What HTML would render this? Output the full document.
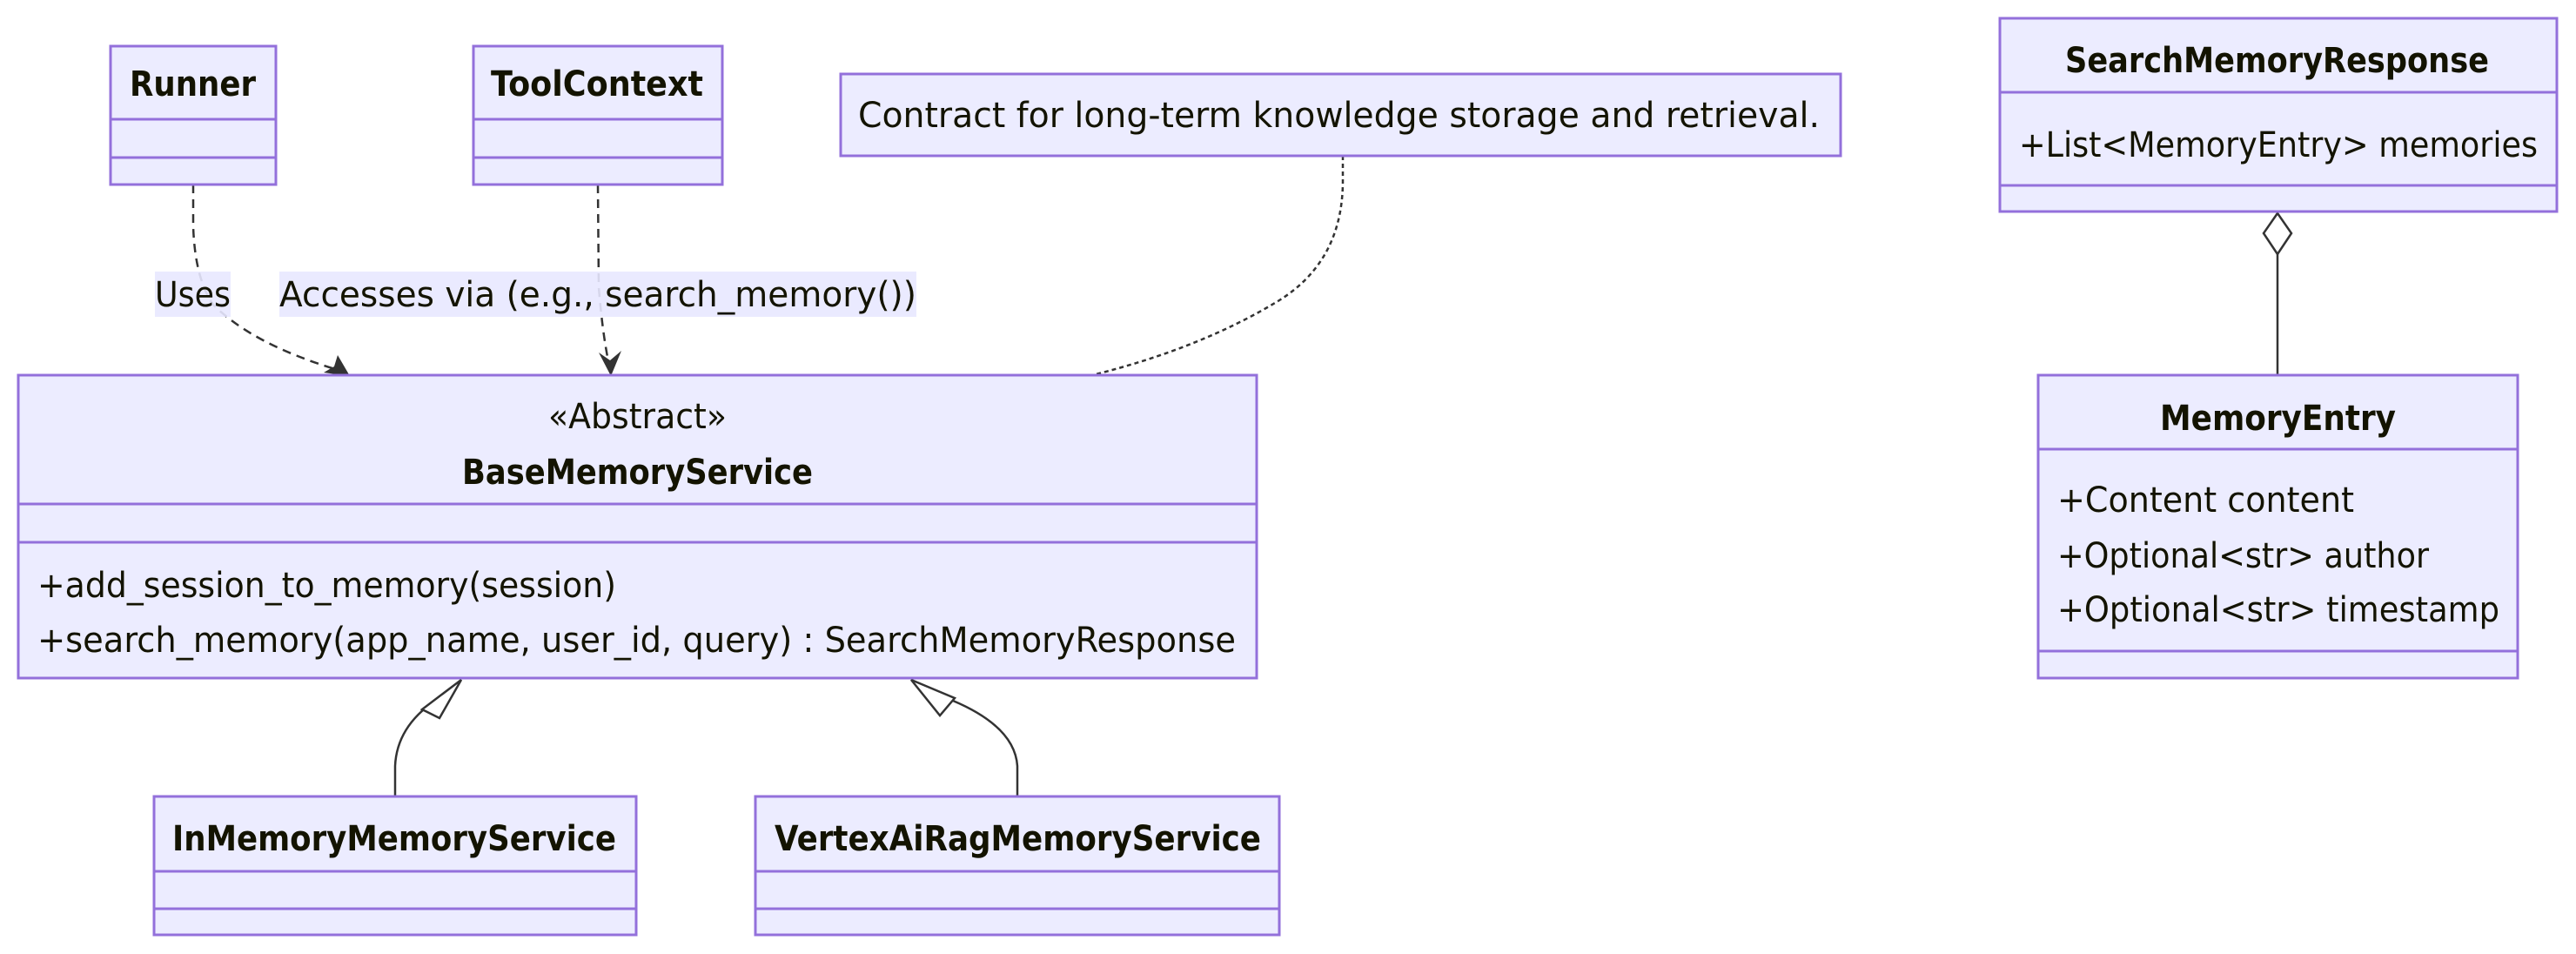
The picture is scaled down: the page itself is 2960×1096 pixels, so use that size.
<!DOCTYPE html>
<html><head><meta charset="utf-8"><style>
html,body{margin:0;padding:0;background:#fff;}
svg{display:block;}
text{font-family:"DejaVu Sans","Liberation Sans",sans-serif;fill:#131300;}
.b{fill:#ECECFF;stroke:#9370DB;stroke-width:3;}
.d{stroke:#9370DB;stroke-width:3;}
.t{font-size:40px;}
.h{font-size:40px;font-weight:bold;}
</style></head><body>
<svg width="2960" height="1096" viewBox="0 0 2960 1096" xmlns="http://www.w3.org/2000/svg">
<g fill="none" stroke="#333" stroke-width="2.5">
<path d="M222 212 L222 260 Q224 320 245 350 Q290 395 385 424" stroke-dasharray="10,7"/>
<path d="M687 212 L688 330 Q692 380 699 415" stroke-dasharray="10,7"/>
<path d="M1543 179 L1543 210 Q1542 300 1470 345 Q1380 400 1255 431" stroke-dasharray="5,4"/>
<path d="M454 915 L454 880 Q456 835 500 805"/>
<path d="M1169 915 L1169 880 Q1166 835 1095 805"/>
<path d="M2617 292 L2617 431"/>
</g>
<path d="M402 432 L372 428 L384 421 L388 408 Z" fill="#333"/>
<path d="M702 432 L688 405 L701 414 L714 403 Z" fill="#333"/>
<path d="M530 781 L485 815 L505 825 Z" fill="#fff" stroke="#333" stroke-width="2.5"/>
<path d="M1047 781 L1080 822 L1097 802 Z" fill="#fff" stroke="#333" stroke-width="2.5"/>
<path d="M2617 245 L2633 268 L2617 292 L2601 268 Z" fill="#fff" stroke="#333" stroke-width="2.5"/>

<rect x="178" y="312" width="87" height="52" fill="#E8E8FF" opacity="0.9"/>
<text class="t" x="178" y="352" textLength="87" lengthAdjust="spacingAndGlyphs">Uses</text>
<rect x="321" y="312" width="732" height="52" fill="#E8E8FF" opacity="0.9"/>
<text class="t" x="321" y="352" textLength="732" lengthAdjust="spacingAndGlyphs">Accesses via (e.g., search_memory())</text>

<rect class="b" x="127" y="53" width="190" height="159"/>
<line class="d" x1="127" y1="137" x2="317" y2="137"/><line class="d" x1="127" y1="181" x2="317" y2="181"/>
<text class="h" x="149" y="110" textLength="145" lengthAdjust="spacingAndGlyphs">Runner</text>
<rect class="b" x="544" y="53" width="286" height="159"/>
<line class="d" x1="544" y1="137" x2="830" y2="137"/><line class="d" x1="544" y1="181" x2="830" y2="181"/>
<text class="h" x="564" y="110" textLength="244" lengthAdjust="spacingAndGlyphs">ToolContext</text>
<rect class="b" x="966" y="85" width="1149" height="94"/>
<text class="t" x="986" y="146" textLength="1105" lengthAdjust="spacingAndGlyphs">Contract for long-term knowledge storage and retrieval.</text>

<rect class="b" x="21" y="431" width="1423" height="348"/>
<line class="d" x1="21" y1="579" x2="1444" y2="579"/><line class="d" x1="21" y1="623" x2="1444" y2="623"/>
<text class="t" x="630" y="492" textLength="205" lengthAdjust="spacingAndGlyphs">«Abstract»</text>
<text class="h" x="531" y="556" textLength="403" lengthAdjust="spacingAndGlyphs">BaseMemoryService</text>
<text class="t" x="43" y="686" textLength="665" lengthAdjust="spacingAndGlyphs">+add_session_to_memory(session)</text>
<text class="t" x="43" y="749" textLength="1377" lengthAdjust="spacingAndGlyphs">+search_memory(app_name, user_id, query) : SearchMemoryResponse</text>

<rect class="b" x="177" y="915" width="554" height="159"/>
<line class="d" x1="177" y1="1001" x2="731" y2="1001"/><line class="d" x1="177" y1="1044" x2="731" y2="1044"/>
<text class="h" x="198" y="977" textLength="510" lengthAdjust="spacingAndGlyphs">InMemoryMemoryService</text>
<rect class="b" x="868" y="915" width="602" height="159"/>
<line class="d" x1="868" y1="1001" x2="1470" y2="1001"/><line class="d" x1="868" y1="1044" x2="1470" y2="1044"/>
<text class="h" x="890" y="977" textLength="559" lengthAdjust="spacingAndGlyphs">VertexAiRagMemoryService</text>

<rect class="b" x="2298" y="21" width="640" height="222"/>
<line class="d" x1="2298" y1="106" x2="2938" y2="106"/><line class="d" x1="2298" y1="213" x2="2938" y2="213"/>
<text class="h" x="2373" y="83" textLength="487" lengthAdjust="spacingAndGlyphs">SearchMemoryResponse</text>
<text class="t" x="2320" y="180" textLength="596" lengthAdjust="spacingAndGlyphs">+List&lt;MemoryEntry&gt; memories</text>

<rect class="b" x="2342" y="431" width="551" height="348"/>
<line class="d" x1="2342" y1="516" x2="2893" y2="516"/><line class="d" x1="2342" y1="748" x2="2893" y2="748"/>
<text class="h" x="2482" y="494" textLength="271" lengthAdjust="spacingAndGlyphs">MemoryEntry</text>
<text class="t" x="2364" y="588" textLength="341" lengthAdjust="spacingAndGlyphs">+Content content</text>
<text class="t" x="2364" y="652" textLength="427" lengthAdjust="spacingAndGlyphs">+Optional&lt;str&gt; author</text>
<text class="t" x="2364" y="714" textLength="508" lengthAdjust="spacingAndGlyphs">+Optional&lt;str&gt; timestamp</text>
</svg>
</body></html>
